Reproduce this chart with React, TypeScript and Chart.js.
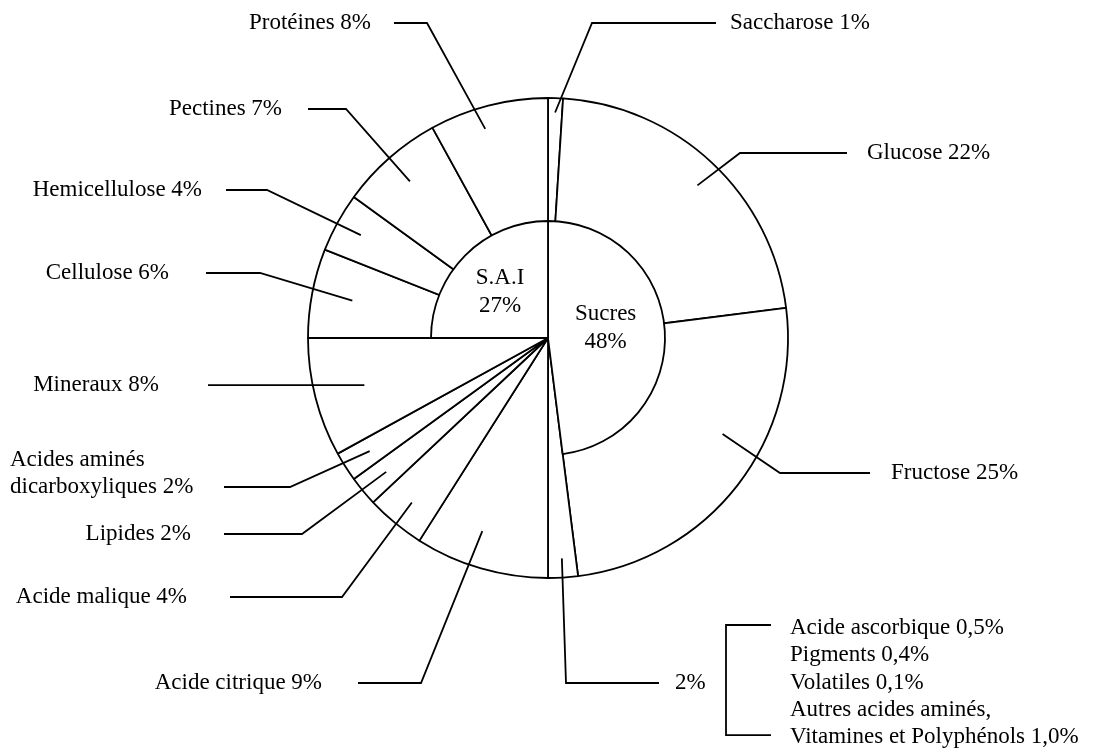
import React, { useEffect, useRef } from 'react';
import { Chart, registerables } from 'chart.js';

Chart.register(...registerables);

// ---------- DATA ----------
const outerCategories = [
  'Saccharose',
  'Glucose',
  'Fructose',
  '',
  'Acide citrique',
  'Acide malique',
  'Lipides',
  'Acides aminés\ndicarboxyliques',
  'Mineraux',
  'Cellulose',
  'Hemicellulose',
  'Pectines',
  'Protéines',
];
const outerValues = [1, 22, 25, 2, 9, 4, 2, 2, 8, 6, 4, 7, 8];

const innerCategories = ['Sucres', '', 'S.A.I'];
const innerValues = [48, 27, 25];
const innerPercentLabels = ['48%', '', '27%'];

const detailCategories = [
  'Acide ascorbique',
  'Pigments',
  'Volatiles',
  'Autres acides aminés,\nVitamines et Polyphénols',
];
const detailValues = [0.5, 0.4, 0.1, 1.0];

// ---------- LAYOUT / STYLE ----------
const W = 1096;
const H = 754;
const PAD_BOTTOM = 78;
const OUTER_RADIUS = 240;
const INNER_RADIUS = 117;
const FONT = '23px "Liberation Serif", "Times New Roman", serif';
const LINE_H = 27.3;
const STROKE = 1.8;

type Leader = {
  t: number; // position of the tip inside the slice (0..1 of its angle)
  r: number; // tip radius as a fraction of the outer radius
  elbow: [number, number] | null; // offsets from the pie centre
  end: number; // x offset where the horizontal segment ends
  textX: number; // x offset of the text anchor
  align: 'left' | 'right';
};

const leaderLayout: Leader[] = [
  { t: 0.5, r: 0.94, elbow: [44, -315], end: 168, textX: 182, align: 'left' },
  { t: 0.515, r: 0.89, elbow: [192, -185], end: 299, textX: 319, align: 'left' },
  { t: 0.4, r: 0.83, elbow: [232, 135], end: 322, textX: 343, align: 'left' },
  { t: 0.5, r: 0.92, elbow: [18, 345], end: 111, textX: 127, align: 'left' },
  { t: 0.58, r: 0.85, elbow: [-127, 345], end: -190, textX: -226, align: 'right' },
  { t: 0.5, r: 0.89, elbow: [-206, 259], end: -318, textX: -361, align: 'right' },
  { t: 0.5, r: 0.875, elbow: [-246, 196], end: -324, textX: -357, align: 'right' },
  { t: 0.5, r: 0.88, elbow: [-258, 149], end: -324, textX: -538, align: 'left' },
  { t: 0.5, r: 0.79, elbow: null, end: -340, textX: -389, align: 'right' },
  { t: 0.5, r: 0.83, elbow: [-288, -65], end: -342, textX: -379, align: 'right' },
  { t: 0.5, r: 0.89, elbow: [-281, -148], end: -322, textX: -346, align: 'right' },
  { t: 0.5, r: 0.87, elbow: [-202, -229], end: -240, textX: -266, align: 'right' },
  { t: 0.42, r: 0.91, elbow: [-121, -315], end: -154, textX: -177, align: 'right' },
];

const innerLabelLayout = [
  { t: 0.464, r: 0.5 },
  { t: 0.5, r: 0.5 },
  { t: 0.49, r: 0.57 },
];

const detailLayout = { bracketX: 178, tickEnd: 223, textX: 242, firstY: 290 };

const fmtComma = (v: number) => v.toFixed(1).replace('.', ',') + '%';

function outerLabel(i: number) {
  const name = outerCategories[i];
  return name ? `${name} ${outerValues[i]}%` : `${outerValues[i]}%`;
}

const leaderPlugin = {
  id: 'leaders',
  afterDraw(chart: any) {
    const meta = chart.getDatasetMeta(0);
    const ctx: CanvasRenderingContext2D = chart.ctx;
    ctx.save();
    ctx.strokeStyle = '#000';
    ctx.fillStyle = '#000';
    ctx.lineWidth = STROKE;
    ctx.font = FONT;
    ctx.textBaseline = 'middle';
    let cx = 0;
    let cy = 0;
    meta.data.forEach((el: any, i: number) => {
      const { x, y, startAngle, endAngle, outerRadius } = el.getProps(
        ['x', 'y', 'startAngle', 'endAngle', 'outerRadius'],
        true
      );
      cx = x;
      cy = y;
      const L = leaderLayout[i];
      const a = startAngle + L.t * (endAngle - startAngle);
      const px = x + Math.cos(a) * outerRadius * L.r;
      const py = y + Math.sin(a) * outerRadius * L.r;
      const ly = L.elbow ? y + L.elbow[1] : py;
      ctx.beginPath();
      ctx.moveTo(px, py);
      if (L.elbow) ctx.lineTo(x + L.elbow[0], ly);
      ctx.lineTo(x + L.end, ly);
      ctx.stroke();
      const lines = outerLabel(i).split('\n');
      ctx.textAlign = L.align;
      lines.forEach((ln, k) => {
        ctx.fillText(ln, x + L.textX, ly - (lines.length - 1 - k) * LINE_H);
      });
    });

    // breakdown of the small 2% slice
    const rows: string[] = [];
    detailCategories.forEach((name, i) => {
      const parts = `${name} ${fmtComma(detailValues[i])}`.split('\n');
      rows.push(...parts);
    });
    const y0 = cy + detailLayout.firstY;
    const yLast = y0 + (rows.length - 1) * LINE_H;
    ctx.beginPath();
    ctx.moveTo(cx + detailLayout.tickEnd, y0 - 3);
    ctx.lineTo(cx + detailLayout.bracketX, y0 - 3);
    ctx.lineTo(cx + detailLayout.bracketX, yLast - 2);
    ctx.lineTo(cx + detailLayout.tickEnd, yLast - 2);
    ctx.stroke();
    ctx.textAlign = 'left';
    rows.forEach((r, k) => ctx.fillText(r, cx + detailLayout.textX, y0 + k * LINE_H));
    ctx.restore();
  },
};

const innerLabelPlugin = {
  id: 'innerLabels',
  afterDraw(chart: any) {
    const meta = chart.getDatasetMeta(0);
    const ctx: CanvasRenderingContext2D = chart.ctx;
    ctx.save();
    ctx.fillStyle = '#000';
    ctx.font = FONT;
    ctx.textBaseline = 'middle';
    ctx.textAlign = 'center';
    meta.data.forEach((el: any, i: number) => {
      if (!innerPercentLabels[i]) return;
      const { x, y, startAngle, endAngle, outerRadius } = el.getProps(
        ['x', 'y', 'startAngle', 'endAngle', 'outerRadius'],
        true
      );
      const L = innerLabelLayout[i];
      const a = startAngle + L.t * (endAngle - startAngle);
      const px = x + Math.cos(a) * outerRadius * L.r;
      const py = y + Math.sin(a) * outerRadius * L.r;
      ctx.fillText(innerCategories[i], px, py - 14);
      ctx.fillText(innerPercentLabels[i], px, py + 14);
    });
    ctx.restore();
  },
};

export default function App() {
  const outerRef = useRef<HTMLCanvasElement>(null);
  const innerRef = useRef<HTMLCanvasElement>(null);

  useEffect(() => {
    const common: any = {
      responsive: false,
      animation: false,
      events: [],
      layout: { padding: { top: 0, left: 0, right: 0, bottom: PAD_BOTTOM } },
      plugins: { legend: { display: false }, tooltip: { enabled: false } },
    };
    const outer = new Chart(outerRef.current as HTMLCanvasElement, {
      type: 'pie',
      data: {
        labels: outerCategories,
        datasets: [
          {
            data: outerValues,
            backgroundColor: '#ffffff',
            borderColor: '#000000',
            borderWidth: STROKE,
            radius: OUTER_RADIUS,
          } as any,
        ],
      },
      options: common,
      plugins: [leaderPlugin],
    });
    const inner = new Chart(innerRef.current as HTMLCanvasElement, {
      type: 'pie',
      data: {
        labels: innerCategories,
        datasets: [
          {
            data: innerValues,
            backgroundColor: ['#ffffff', 'rgba(0,0,0,0)', '#ffffff'],
            borderColor: '#000000',
            borderWidth: [STROKE, 0, STROKE],
            radius: INNER_RADIUS,
          } as any,
        ],
      },
      options: common,
      plugins: [innerLabelPlugin],
    });
    return () => {
      outer.destroy();
      inner.destroy();
    };
  }, []);

  return (
    <div style={{ position: 'absolute', left: 0, top: 0, width: W, height: H, background: '#ffffff' }}>
      <canvas ref={outerRef} width={W} height={H} style={{ position: 'absolute', left: 0, top: 0 }} />
      <canvas ref={innerRef} width={W} height={H} style={{ position: 'absolute', left: 0, top: 0 }} />
    </div>
  );
}
